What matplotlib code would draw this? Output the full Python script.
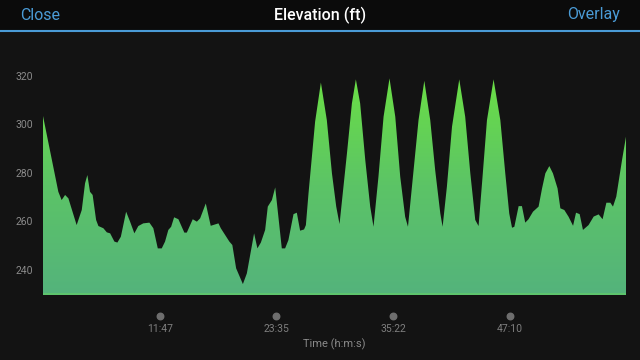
import matplotlib
matplotlib.use("Agg")
import matplotlib.pyplot as plt
import numpy as np
import matplotlib.transforms as mtrans
from matplotlib.patches import Polygon
from matplotlib.colors import LinearSegmentedColormap

# Data: time (seconds) and elevation (ft)
time_s = [0, 93, 113, 134, 154, 204, 235, 255, 269, 285, 301, 322, 336, 366, 387, 407,
          433, 451, 472, 504, 528, 554, 578, 608, 645, 669, 696, 720, 740, 760, 777, 795,
          821, 857, 872, 908, 933, 953, 987, 1017, 1064, 1078, 1130, 1148, 1171, 1212,
          1236, 1280, 1300, 1321, 1347, 1363, 1388, 1408, 1448, 1468, 1488, 1519, 1539,
          1559, 1583, 1594, 1610, 1650, 1685, 1721, 1752, 1778, 1798, 1843, 1873, 1897,
          1923, 1954, 1984, 2004, 2034, 2065, 2101, 2136, 2166, 2196, 2213, 2247, 2277,
          2312, 2348, 2378, 2409, 2423, 2449, 2480, 2524, 2560, 2591, 2621, 2641, 2662,
          2692, 2732, 2773, 2803, 2827, 2844, 2858, 2884, 2904, 2924, 2944, 2971, 3005,
          3026, 3046, 3070, 3092, 3120, 3137, 3161, 3187, 3214, 3232, 3254, 3274, 3308,
          3339, 3369, 3393, 3416, 3440, 3456, 3476, 3511, 3535]
elev_ft = [303.4, 272.2, 268.8, 270.9, 269.5, 258.5, 264.7, 275.7, 279.1, 272.2, 270.9,
           260.6, 258.1, 257.2, 255.5, 255.1, 251.7, 251.3, 253.7, 264.0, 259.9, 255.1,
           258.1, 259.2, 259.5, 257.2, 248.9, 248.9, 251.7, 256.5, 257.8, 261.7, 260.9,
           255.4, 255.4, 260.9, 259.9, 261.3, 267.4, 258.2, 259.2, 257.2, 251.7, 250.3,
           240.7, 234.2, 238.6, 255.1, 248.9, 251.3, 256.5, 266.1, 268.8, 274.0, 248.9,
           248.9, 252.3, 263.0, 263.6, 256.2, 256.7, 258.5, 271.6, 301.1, 317.2, 301.7,
           279.8, 266.1, 258.9, 288.0, 308.6, 318.5, 308.6, 285.3, 266.1, 257.8, 278.4,
           303.1, 318.9, 303.1, 278.4, 261.9, 257.8, 281.1, 301.7, 317.9, 301.7, 281.1,
           263.3, 257.8, 274.3, 299.0, 318.5, 303.1, 279.8, 260.6, 258.1, 275.7, 301.7,
           318.5, 301.7, 279.8, 263.3, 257.4, 257.8, 266.3, 266.3, 259.5, 260.9, 264.0,
           266.1, 273.6, 279.8, 282.8, 279.8, 273.6, 265.4, 264.7, 261.9, 258.2, 263.6,
           263.0, 256.5, 258.5, 262.0, 262.9, 260.9, 267.7, 267.7, 266.1, 270.2, 285.3,
           294.9]

y_ticks = [240, 260, 280, 300, 320]
x_tick_pos = [707.5, 1415, 2122, 2830]
x_tick_labels = ["11:47", "23:35", "35:22", "47:10"]

BG = "#131313"
HEADER_BG = "#0b0b0b"
BLUE = "#4a9bd6"

fig = plt.figure(figsize=(6.4, 3.6), dpi=100, facecolor=BG)
W, H = 640, 360

# header
hdr = fig.add_axes([0, 1 - 31 / H, 1, 31 / H])
hdr.set_axis_off()
hdr.add_patch(plt.Rectangle((0, 0), 1, 1, transform=hdr.transAxes, color=HEADER_BG))
fig.add_artist(plt.Line2D([0, 1], [1 - 31 / H, 1 - 31 / H], color=BLUE, lw=1.5,
                          transform=fig.transFigure))
fig.text(20 / W, 1 - 15 / H, "Close", color=BLUE, fontsize=11.5, family="Roboto",
         ha="left", va="center")
fig.text(620 / W, 1 - 15 / H, "Overlay", color=BLUE, fontsize=11.5, family="Roboto",
         ha="right", va="center")
fig.text(0.5, 1 - 15 / H, "Elevation (ft)", color="white", fontsize=11.5,
         family="Roboto", weight="medium", ha="center", va="center")

# main axes
x0, x1 = 43, 626
ytop, ybot = 40, 295
ax = fig.add_axes([x0 / W, 1 - ybot / H, (x1 - x0) / W, (ybot - ytop) / H])
ax.set_facecolor(BG)
ymin = 240 - (ybot - 270) / 2.429
ymax = 320 + (75.7 - ytop) / 2.429
ax.set_ylim(ymin, ymax)
ax.set_xlim(time_s[0], time_s[-1])
for s in ax.spines.values():
    s.set_visible(False)

cmap = LinearSegmentedColormap.from_list("g", ["#54b37c", "#5cc466", "#6bdf45"])
grad = np.linspace(0, 1, 256).reshape(-1, 1)
im = ax.imshow(grad, aspect="auto", cmap=cmap, origin="lower",
               extent=[time_s[0], time_s[-1], ymin, 320], zorder=1)
verts = [(time_s[0], ymin)] + list(zip(time_s, elev_ft)) + [(time_s[-1], ymin)]
poly = Polygon(verts, closed=True, facecolor="none", edgecolor="none")
ax.add_patch(poly)
im.set_clip_path(poly)
ax.plot([time_s[0], time_s[-1]], [ymin + 0.3, ymin + 0.3], color="#5fc86a", lw=1.2,
        zorder=2)

ax.set_yticks(y_ticks)
ax.set_yticklabels([str(v) for v in y_ticks])
ax.tick_params(axis="y", length=0, pad=7, labelcolor="#8a8a8a", labelsize=7.5)
for lab in ax.get_yticklabels():
    lab.set_family("Roboto")
ax.set_xticks([])

# x tick dots and labels (below axes)
dots = ax.scatter(x_tick_pos, [ymin] * len(x_tick_pos), s=22, color="#6e6e6e",
                  clip_on=False, zorder=3)
dots.set_offset_transform(ax.transData + mtrans.ScaledTranslation(
    0, -(316 - ybot) / 100, fig.dpi_scale_trans))
for xp, lbl in zip(x_tick_pos, x_tick_labels):
    ax.annotate(lbl, (xp, ymin), xytext=(0, -(329 - ybot)), textcoords="offset pixels",
                ha="center", va="center", color="#7e7e7e", fontsize=7.5, family="Roboto",
                annotation_clip=False)
fig.text((x0 + x1) / 2 / W, 1 - 344 / H, "Time (h:m:s)", color="#8a8a8a", fontsize=8,
         family="Roboto", ha="center", va="center")

fig.savefig("out.png", dpi=100, facecolor=BG)
